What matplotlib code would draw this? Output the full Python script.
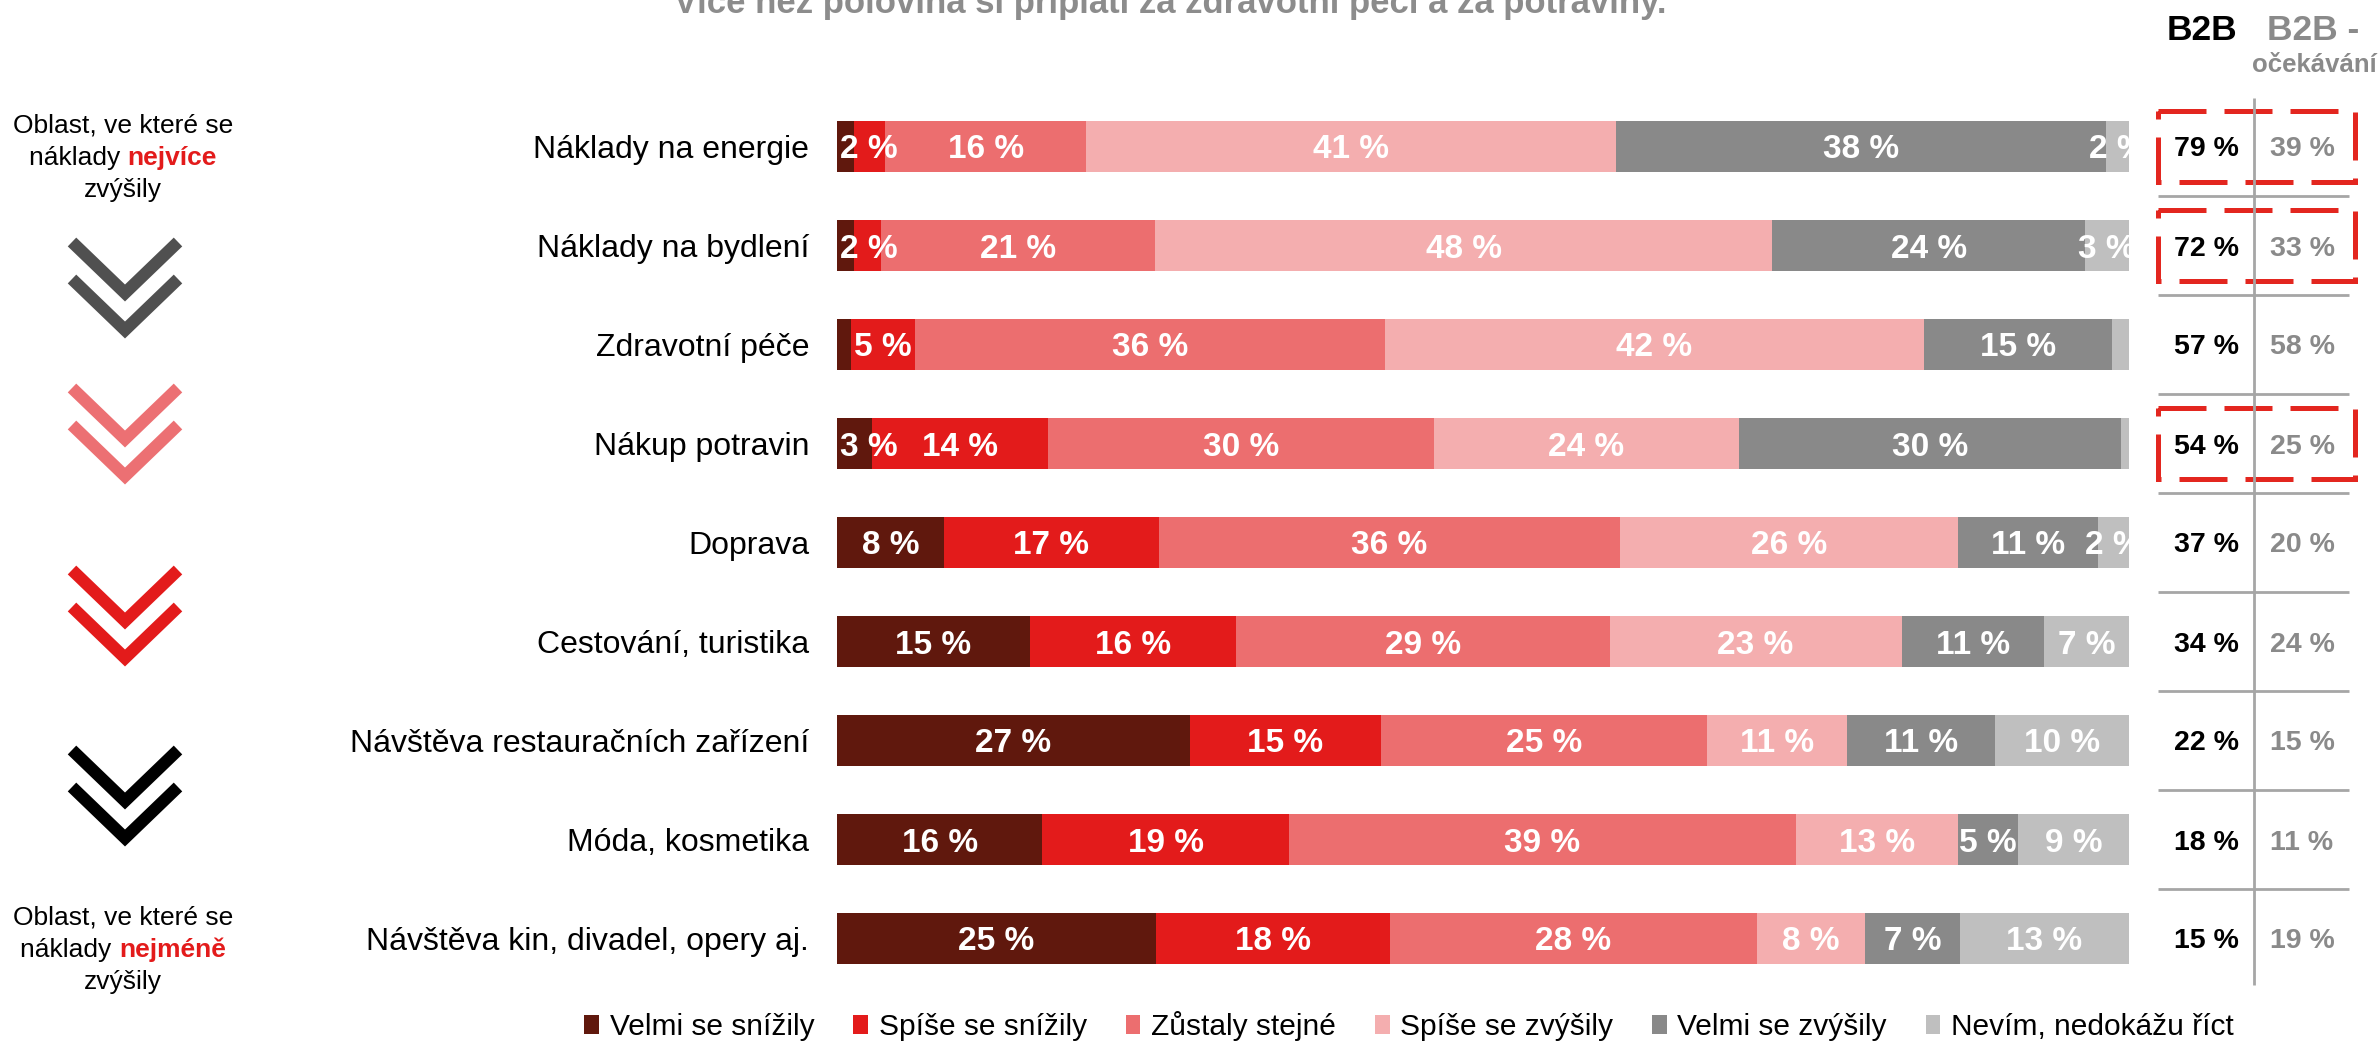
import matplotlib
matplotlib.use("Agg")
import matplotlib.pyplot as plt
from matplotlib.patches import Rectangle
import numpy as np

plt.rcParams['font.family'] = ['Liberation Sans', 'DejaVu Sans']

# ---------------- data ----------------
categories = [
    "Náklady na energie",
    "Náklady na bydlení",
    "Zdravotní péče",
    "Nákup potravin",
    "Doprava",
    "Cestování, turistika",
    "Návštěva restauračních zařízení",
    "Móda, kosmetika",
    "Návštěva kin, divadel, opery aj.",
]
series_names = ["Velmi se snížily", "Spíše se snížily", "Zůstaly stejné",
                "Spíše se zvýšily", "Velmi se zvýšily", "Nevím, nedokážu říct"]
velmi_snizily = [1.3, 1.3, 1.1, 2.7, 8.3, 14.9, 27.3, 15.9, 24.7]
spise_snizily = [2.4, 2.1, 4.9, 13.6, 16.6, 16.0, 14.8, 19.1, 18.1]
zustaly = [15.6, 21.2, 36.4, 29.9, 35.7, 28.9, 25.2, 39.2, 28.4]
spise_zvysily = [41.0, 47.8, 41.7, 23.6, 26.2, 22.6, 10.9, 12.6, 8.4]
velmi_zvysily = [37.9, 24.2, 14.6, 29.6, 10.8, 11.0, 11.4, 4.6, 7.3]
nevim = [1.8, 3.4, 1.4, 0.7, 2.4, 6.6, 10.4, 8.6, 13.1]
b2b = [79, 72, 57, 54, 37, 34, 22, 18, 15]
b2b_ocekavani = [39, 33, 58, 25, 20, 24, 15, 11, 19]
highlighted = [0, 1, 3]

colors = ["#60180d", "#e31b1b", "#ec6e6f", "#f4aeaf", "#898989", "#bfbfbf"]

W, H = 2379, 1041
fig = plt.figure(figsize=(W / 100, H / 100), dpi=100)

# overlay axes in pixel coordinates for decorations
ov = fig.add_axes([0, 0, 1, 1], zorder=0)
ov.set_xlim(0, W)
ov.set_ylim(H, 0)
ov.axis("off")

top_px, row_px = 97, 99
n = len(categories)
ax_bottom = 1 - (top_px + n * row_px) / H
ax_height = n * row_px / H
ax = fig.add_axes([837 / W, ax_bottom, 1292 / W, ax_height], zorder=2)

series = [velmi_snizily, spise_snizily, zustaly, spise_zvysily, velmi_zvysily, nevim]
y = np.arange(n)
left = np.zeros(n)
handles = []
for vals, col, name in zip(series, colors, series_names):
    vals = np.array(vals)
    b = ax.barh(y, vals, left=left, height=0.52, color=col, label=name,
                edgecolor="none")
    handles.append(b)
    for yi, (l, v) in enumerate(zip(left, vals)):
        if v >= 1.5:
            t = ax.text(max(l + v / 2, 2.5), yi, f"{int(round(v))} %",
                        ha="center", va="center_baseline", color="white",
                        fontsize=24, fontweight="bold")
            t.set_clip_on(True)
    left = left + vals

ax.set_xlim(0, 100)
ax.set_ylim(n - 0.5, -0.5)
ax.set_yticks(y)
ax.set_yticklabels(categories, fontsize=23)
ax.tick_params(axis="y", length=0, pad=20)
ax.set_xticks([])
for s in ax.spines.values():
    s.set_visible(False)

# right panel
rx0, rw = 2150, 220
rax = fig.add_axes([rx0 / W, ax_bottom, rw / W, ax_height], zorder=2)
rax.set_xlim(0, rw)
rax.set_ylim(n - 0.5, -0.5)
rax.axis("off")
gray_line = "#a6a6a6"
rax.plot([104, 104], [-0.49, n - 0.53], color=gray_line, lw=2.0,
         solid_capstyle="butt")
for i in range(n - 1):
    rax.plot([8, 199], [i + 0.5, i + 0.5], color=gray_line, lw=2.0,
             solid_capstyle="butt")
for i in range(n):
    rax.text(56, i, f"{b2b[i]} %", ha="center", va="center_baseline",
             fontsize=20.5, fontweight="bold", color="black")
    rax.text(152, i, f"{b2b_ocekavani[i]} %", ha="center",
             va="center_baseline", fontsize=20.5, fontweight="bold",
             color="#8a8a8a")
for i in highlighted:
    rax.add_patch(Rectangle((8, i - 0.355), 197, 0.71, fill=False,
                            edgecolor="#e3261f", lw=3.6,
                            linestyle=(0, (9.6, 3.6)), clip_on=False))

# headers
ov.text(2202, 31, "B2B", ha="center", va="center", fontsize=25.5,
        fontweight="bold", color="black")
ov.text(2313, 31, "B2B -", ha="center", va="center", fontsize=25.5,
        fontweight="bold", color="#8a8a8a")
ov.text(2314, 65, "očekávání", ha="center", va="center", fontsize=18.5,
        fontweight="bold", color="#8a8a8a")

# title (partly cut at top, as in the original)
ov.text(1170, 13, "Více než polovina si připlatí za zdravotní péči a za potraviny.",
        ha="center", va="baseline", fontsize=25, fontweight="bold",
        color="#8c8c8c")

# left annotations
renderer = fig.canvas.get_renderer()


def mixed_line(cx, cy, parts, fs):
    texts = []
    for s, col, wt in parts:
        t = ov.text(0, cy, s, ha="left", va="center", fontsize=fs, color=col,
                    fontweight=wt)
        texts.append(t)
    widths = [t.get_window_extent(renderer).width for t in texts]
    x = cx - sum(widths) / 2
    for t, w in zip(texts, widths):
        t.set_x(x)
        x += w


fs_side = 19
red = "#e31b1b"
for (y0, word) in [(126, "nejvíce"), (918, "nejméně")]:
    ov.text(123, y0, "Oblast, ve které se", ha="center", va="center",
            fontsize=fs_side, color="black")
    mixed_line(123, y0 + 32, [("náklady ", "black", "normal"),
                              (word, red, "bold")], fs_side)
    ov.text(123, y0 + 64, "zvýšily", ha="center", va="center",
            fontsize=fs_side, color="black")

# chevrons
chev_cols = ["#505050", "#ec7073", "#e31b1b", "#000000"]
chev_tops = [242, 388, 570, 750]
for col, ty in zip(chev_cols, chev_tops):
    for dy in (0, 37):
        ov.plot([72, 125, 178], [ty + dy, ty + dy + 51, ty + dy], color=col,
                lw=8.8, solid_joinstyle="miter", solid_capstyle="butt")

# legend
fig.legend(handles=handles, labels=series_names, loc="center",
           bbox_to_anchor=(1409 / W, 1 - 1026 / H), ncol=6, frameon=False,
           fontsize=21.5, handlelength=0.5, handleheight=0.6,
           handletextpad=0.35, columnspacing=1.3, borderpad=0)

fig.savefig("out.png", dpi=100)
